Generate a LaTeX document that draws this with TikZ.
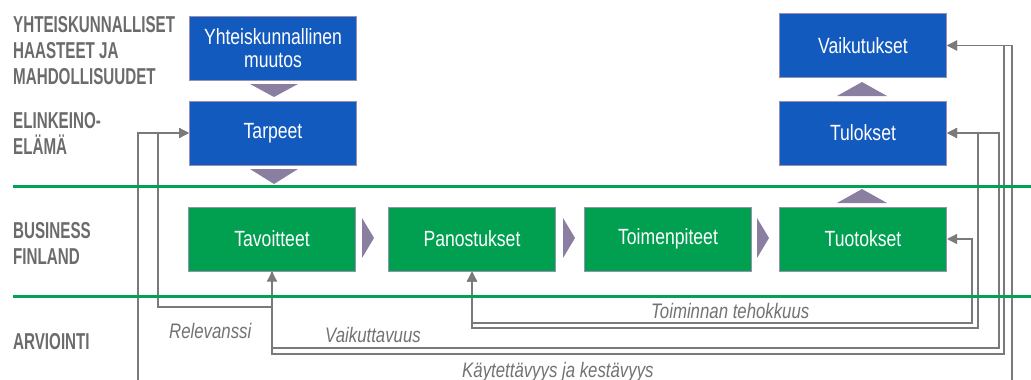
\documentclass[tikz,border=0pt]{standalone}
\usepackage{fontspec}
\setmainfont{Liberation Sans}
\newfontfamily\lblfont[FakeStretch=0.66]{Liberation Sans}
\newfontfamily\boxfont[FakeStretch=0.8]{Liberation Sans}
\newfontfamily\itlfont[FakeStretch=0.8]{Liberation Sans}
\usetikzlibrary{arrows.meta,calc}
\definecolor{bfblue}{HTML}{135ABF}
\definecolor{bfgreen}{HTML}{00A050}
\definecolor{lineGreen}{HTML}{00A352}
\definecolor{boxborder}{HTML}{9A8FB0}
\definecolor{tri}{HTML}{8B7FA1}
\definecolor{conngray}{HTML}{7A7A7A}
\definecolor{lblgray}{HTML}{6B6B6B}
\definecolor{itgray}{HTML}{727272}
\tikzset{
  bbox/.style={draw=boxborder, line width=1pt, minimum width=167pt, minimum height=64pt, inner sep=0pt,
    text=white, font=\boxfont\fontsize{22}{23}\selectfont, align=center},
  bluebox/.style={bbox, fill=bfblue},
  greenbox/.style={bbox, fill=bfgreen},
  lanelbl/.style={anchor=north west, inner sep=0pt, align=left, text=lblgray,
    font=\lblfont\bfseries\fontsize{23}{26}\selectfont},
  itlbl/.style={anchor=base west, inner sep=0pt, text=itgray,
    font=\itlfont\itshape\fontsize{21}{22}\selectfont},
  conn/.style={draw=conngray, line width=1.3pt},
  arr/.style={-{Triangle[length=10pt,width=10pt]}},
  dbl/.style={{Triangle[length=10pt,width=10pt]}-{Triangle[length=10pt,width=10pt]}},
  tri/.style={fill=tri, draw=none},
  lane/.style={draw=lineGreen, line width=3pt}
}
\begin{document}
\begin{tikzpicture}[x=1pt,y=-1pt]
\useasboundingbox (0,0) rectangle (1031,380);

% lane labels
\node[lanelbl] (l1) at (13,16) {YHTEISKUNNALLISET\\HAASTEET JA\\MAHDOLLISUUDET};
\node[lanelbl] (l2) at (13,112) {ELINKEINO-\\ELÄMÄ};
\node[lanelbl] (l3) at (13,222) {BUSINESS\\FINLAND};
\node[lanelbl] (l4) at (13,333) {ARVIOINTI};

% boxes
\node[bluebox] (yht) at (273,48) {Yhteiskunnallinen\\muutos};
\node[bluebox] (tarp) at (273,133) {Tarpeet};
\node[greenbox] (tav) at (272,239) {Tavoitteet};
\node[greenbox] (pan) at (472,239) {Panostukset};
\node[greenbox] (toim) at (668,239) {Toimenpiteet};
\node[greenbox] (tuot) at (863,239) {Tuotokset};
\node[bluebox] (tul) at (863,133) {Tulokset};
\node[bluebox] (vaik) at (863,45.5) {Vaikutukset};

% flow triangles
\fill[tri] (250,84) -- (298,84) -- (274,97) -- cycle;
\fill[tri] (250,169) -- (298,169) -- (274,184) -- cycle;
\fill[tri] (837,96) -- (887,96) -- (862,82) -- cycle;
\fill[tri] (837,203) -- (887,203) -- (862,189) -- cycle;
\fill[tri] (362,218) -- (362,258) -- (374,238) -- cycle;
\fill[tri] (563,218) -- (563,258) -- (575,238) -- cycle;
\fill[tri] (757,218) -- (757,258) -- (769,238) -- cycle;

% connector coordinates
\coordinate (rel) at (272,307);
\coordinate (relc) at (158,307);
\coordinate (vk1) at (1004,354);
\coordinate (vk2) at (999,348);
\coordinate (tt1) at (972,323);
\coordinate (tt2) at (978,328);
\coordinate (kk1) at (138,390);
\coordinate (kk2) at (1012,390);

% connectors
\draw[conn,dbl] (tav.south) |- (vk1) |- (vaik.east);
\draw[conn,arr] (tav.south) |- (vk2) |- (tul.east);
\draw[conn,arr] (rel) -- (relc) |- (tarp.west);
\draw[conn,dbl] (pan.south) |- (tt2) |- (tul.east);
\draw[conn,dbl] (pan.south) |- (tt1) |- (tuot.east);
\draw[conn,arr] (kk1) |- (tarp.west);
\draw[conn,arr] (kk2) |- (vaik.east);

% lane lines
\coordinate (ga) at (13,186);
\coordinate (gb) at (1031,186);
\coordinate (gc) at (13,296);
\coordinate (gd) at (1031,296);
\draw[lane] (ga) -- (gb);
\draw[lane] (gc) -- (gd);

% evaluation labels
\node[itlbl] (t1) at (169,338) {Relevanssi};
\node[itlbl] (t2) at (325,342) {Vaikuttavuus};
\node[itlbl] (t3) at (651,318) {Toiminnan tehokkuus};
\node[itlbl] (t4) at (462,377) {Käytettävyys ja kestävyys};
\end{tikzpicture}
\end{document}
